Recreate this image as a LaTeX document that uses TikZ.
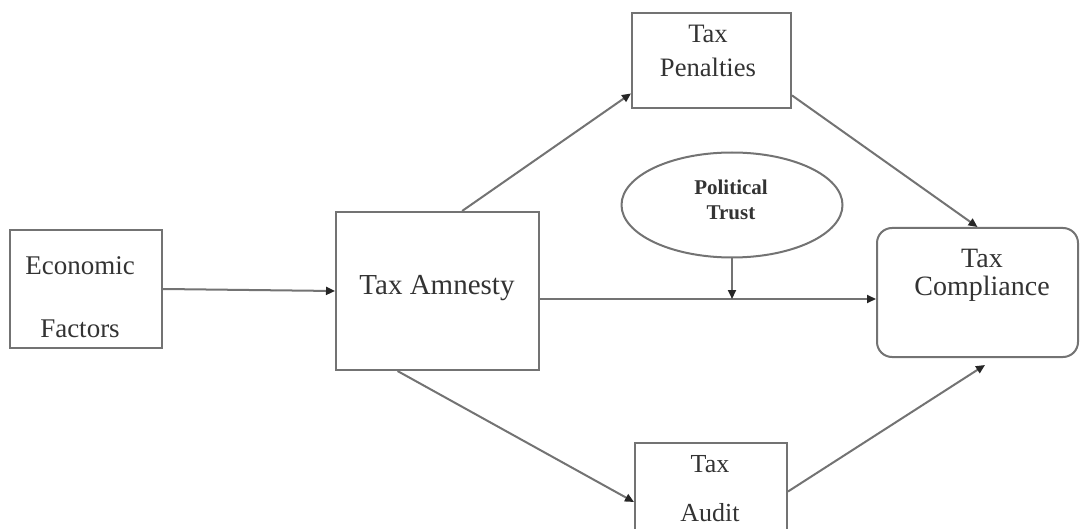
\documentclass[tikz,border=0pt]{standalone}
\usepackage{fontspec}
\setmainfont{Liberation Serif}
\usetikzlibrary{positioning, arrows.meta, shapes.geometric, calc}

\begin{document}
\begin{tikzpicture}[x=0.5pt, y=-0.5pt,
  box/.style={draw=black!55, line width=1pt, inner sep=0pt},
  txt/.style={text=black!80, align=center, inner sep=0pt},
  conn/.style={draw=black!55, line width=1pt, -{Triangle[length=4.5pt, width=4pt, color=black!85]}}]

  % Frame
  \useasboundingbox (0,0) rectangle (1081,529);

  % Boxes
  \node[box, minimum width=76pt, minimum height=59pt] (econ) at (86,289) {};
  \node[box, minimum width=101.5pt, minimum height=79pt] (amnesty) at (437.5,291) {};
  \node[box, minimum width=79.5pt, minimum height=47.5pt] (pen) at (711.5,60.5) {};
  \node[box, ellipse, minimum width=110.5pt, minimum height=52.5pt] (trust) at (732,205) {};
  \node[box, rounded corners=7.5pt, minimum width=100.5pt, minimum height=64.5pt] (comp) at (977.5,292.5) {};
  \node[box, minimum width=76pt, minimum height=48.5pt] (audit) at (711,491.5) {};

  % Labels
  \node[txt, font=\fontsize{13.5}{31.5}\selectfont] (econtxt) at (80,297) {Economic\\Factors};
  \node[txt, font=\fontsize{14.5}{17}\selectfont] (amnestytxt) at (437,288) {Tax Amnesty};
  \node[txt, font=\fontsize{13.3}{17}\selectfont] (pentxt) at (708,51) {Tax\\Penalties};
  \node[txt, font=\bfseries\fontsize{10.5}{12.5}\selectfont] (trusttxt) at (731,200) {Political\\Trust};
  \node[txt, font=\fontsize{14}{14}\selectfont] (comptxt) at (982,275) {Tax\\Compliance};
  \node[txt, font=\fontsize{13}{24.5}\selectfont] (audittxt) at (710,489) {Tax\\Audit};

  % Connectors
  \draw[conn] (econ.east) -- (amnesty.west);
  \draw[conn] ($(amnesty.north west)!0.62!(amnesty.north east)$) -- ($(pen.north west)!0.84!(pen.south west)$);
  \draw[conn] ($(pen.north east)!0.86!(pen.south east)$) -- (comp.north);
  \draw[conn] ([yshift=-4pt]amnesty.east) coordinate (mid) -- (mid -| comp.west);
  \draw[conn] (trust.south) -- (trust.south |- mid);
  \draw[conn] ($(amnesty.south west)!0.305!(amnesty.south east)$) -- ([yshift=-5.25pt]audit.west);
  \draw[conn] (audit.east) -- ([xshift=3.75pt, yshift=-3.5pt]comp.south);

\end{tikzpicture}
\end{document}
